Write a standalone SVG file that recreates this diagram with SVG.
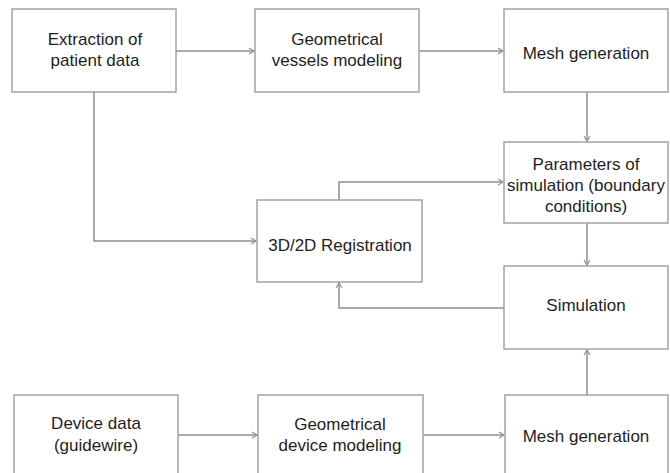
<svg xmlns="http://www.w3.org/2000/svg" width="670" height="473" viewBox="0 0 670 473">
<style>
.box{fill:#fff;stroke:#a3a3a3;stroke-width:1.5}
.t{font-family:"Liberation Sans",Arial,sans-serif;font-size:17px;fill:#1e1e1e;text-anchor:middle}
.c{fill:none;stroke:#8f8f8f;stroke-width:1.5}
</style>
<defs>
<marker id="ah" markerWidth="8" markerHeight="8" refX="6" refY="4" orient="auto" markerUnits="userSpaceOnUse">
<path d="M1,1 L6,4 L1,7" fill="none" stroke="#8f8f8f" stroke-width="1.2"/>
</marker>
</defs>
<rect width="670" height="473" fill="#fff"/>
<g id="connectors">
<path class="c" d="M176,51 H254" marker-end="url(#ah)"/>
<path class="c" d="M419,51 H503" marker-end="url(#ah)"/>
<path class="c" d="M587,92 V141" marker-end="url(#ah)"/>
<path class="c" d="M94,92 V241 H256" marker-end="url(#ah)"/>
<path class="c" d="M339,200 V182 H503" marker-end="url(#ah)"/>
<path class="c" d="M587,223 V265" marker-end="url(#ah)"/>
<path class="c" d="M504,308 H339 V283" marker-end="url(#ah)"/>
<path class="c" d="M587,395 V350" marker-end="url(#ah)"/>
<path class="c" d="M178,435 H257" marker-end="url(#ah)"/>
<path class="c" d="M423,435 H504" marker-end="url(#ah)"/>
</g>
<g id="extraction">
<rect class="box" x="12" y="9" width="164" height="83"/>
<text class="t" x="95" y="45">Extraction of</text>
<text class="t" x="95" y="66">patient data</text>
</g>
<g id="vessels">
<rect class="box" x="255" y="9" width="164" height="83"/>
<text class="t" x="337" y="45">Geometrical</text>
<text class="t" x="337" y="66">vessels modeling</text>
</g>
<g id="mesh-top">
<rect class="box" x="504" y="9" width="164" height="83"/>
<text class="t" x="586" y="59">Mesh generation</text>
</g>
<g id="parameters">
<rect class="box" x="504" y="142" width="164" height="81"/>
<text class="t" x="586" y="170">Parameters of</text>
<text class="t" x="586" y="191">simulation (boundary</text>
<text class="t" x="586" y="212">conditions)</text>
</g>
<g id="registration">
<rect class="box" x="257" y="200" width="165" height="82"/>
<text class="t" x="340" y="251">3D/2D Registration</text>
</g>
<g id="simulation">
<rect class="box" x="504" y="266" width="164" height="83"/>
<text class="t" x="586" y="311">Simulation</text>
</g>
<g id="device">
<rect class="box" x="14" y="395" width="164" height="84"/>
<text class="t" x="96" y="429">Device data</text>
<text class="t" x="96" y="451">(guidewire)</text>
</g>
<g id="device-model">
<rect class="box" x="258" y="395" width="165" height="84"/>
<text class="t" x="340" y="430">Geometrical</text>
<text class="t" x="340" y="451">device modeling</text>
</g>
<g id="mesh-bottom">
<rect class="box" x="505" y="395" width="163" height="84"/>
<text class="t" x="586" y="442">Mesh generation</text>
</g>
</svg>
